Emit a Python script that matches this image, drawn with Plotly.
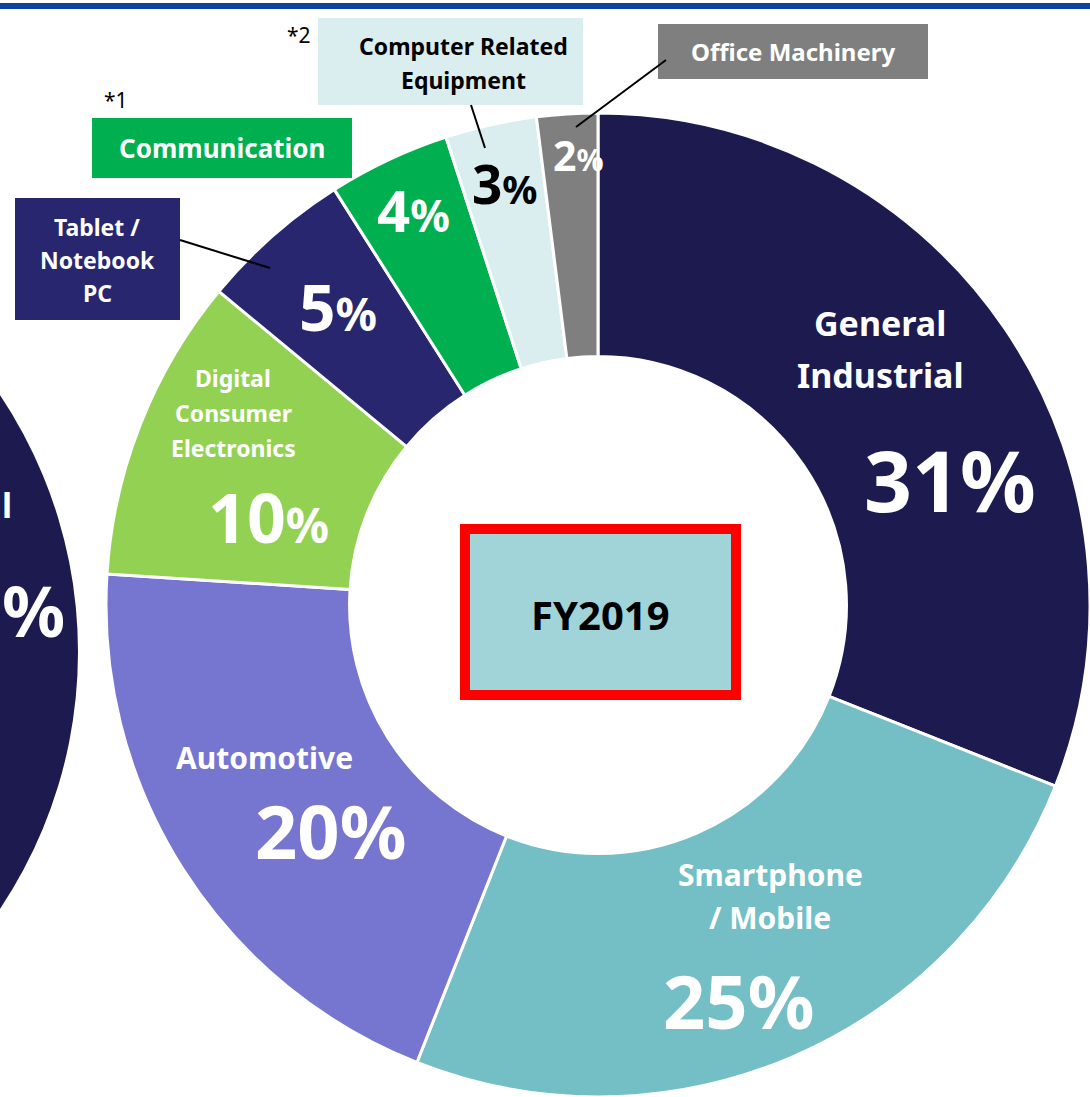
import plotly.graph_objects as go

W, H = 1090, 1097

# ---------------- data ----------------
categories = ["General Industrial", "Smartphone / Mobile", "Automotive",
              "Digital Consumer Electronics", "Tablet / Notebook PC",
              "Communication", "Computer Related Equipment", "Office Machinery"]
shares = [31, 25, 20, 10, 5, 4, 3, 2]
label_lines = [["General", "Industrial"], ["Smartphone", "/ Mobile"], ["Automotive"],
               ["Digital", "Consumer", "Electronics"], ["Tablet /", "Notebook", "PC"],
               ["Communication"], ["Computer Related", "Equipment"], ["Office Machinery"]]
footnotes = ["", "", "", "", "", "*1", "*2", ""]
year_label = "FY2019"
neighbour_tail = ["l", "%"]   # visible fragments of the cut-off neighbouring chart

# ---------------- styles ----------------
colors = ["#1c1a4f", "#73bfc5", "#7675cf", "#93d152", "#28266f",
          "#00b050", "#daedef", "#7f7f7f"]
FONT = "Noto Sans"


def X(p):
    return p / W


def Y(p):
    return 1 - p / H


fig = go.Figure(go.Pie(
    labels=categories, values=shares, sort=False, direction="clockwise",
    rotation=0, hole=0.505, textinfo="none", hoverinfo="label+percent",
    showlegend=False,
    marker=dict(colors=colors, line=dict(color="white", width=3)),
    domain=dict(x=[X(106), 1], y=[0, Y(113)]),
))

shapes = []
annotations = []


def text(x, y, t, size, color="white", bold=True, xanchor="center"):
    s = f"<b>{t}</b>" if bold else t
    annotations.append(dict(x=X(x), y=Y(y), xref="paper", yref="paper", text=s,
                            showarrow=False, xanchor=xanchor, yanchor="middle",
                            font=dict(family=FONT, size=size, color=color)))


def pct(x, y, v, nsize, psize, color="white"):
    t = (f"<span style='font-size:{nsize}px'>{v}</span>"
         f"<span style='font-size:{psize}px'>%</span>")
    text(x, y, t, nsize, color)


def box(x0, y0, x1, y1, fill):
    shapes.append(dict(type="rect", xref="paper", yref="paper", x0=X(x0), x1=X(x1),
                       y0=Y(y1), y1=Y(y0), fillcolor=fill, line=dict(width=0)))


def seg(x0, y0, x1, y1):
    shapes.append(dict(type="line", xref="paper", yref="paper", x0=X(x0), x1=X(x1),
                       y0=Y(y0), y1=Y(y1), line=dict(color="black", width=2)))


# top rule
shapes.append(dict(type="rect", xref="paper", yref="paper", x0=-0.01, x1=1.01,
                   y0=Y(9), y1=Y(3), fillcolor="#0a44a0", line=dict(width=0)))

# neighbouring (cut-off) chart on the left
shapes.append(dict(type="circle", xref="paper", yref="paper", x0=X(-846), x1=X(78),
                   y0=Y(1114), y1=Y(190), fillcolor=colors[0], line=dict(width=0)))
text(0, 505, neighbour_tail[0], 34, xanchor="left")
text(0, 610, neighbour_tail[1], 70, xanchor="left")

# inside labels
# General Industrial
for i, ln in enumerate(label_lines[0]):
    text(880, 323 + i * 52, ln, 34)
pct(950, 480, shares[0], 84, 84)
# Smartphone / Mobile
for i, ln in enumerate(label_lines[1]):
    text(770, 874 + i * 43, ln, 30)
pct(738, 1000, shares[1], 74, 74)
# Automotive
text(264, 757, label_lines[2][0], 30)
pct(330, 830, shares[2], 74, 74)
# Digital Consumer Electronics
for i, ln in enumerate(label_lines[3]):
    text(233, 378 + i * 35, ln, 23)
pct(268, 516, shares[3], 68, 48)
# small slices
pct(338, 306, shares[4], 64, 46)
pct(413, 209, shares[5], 58, 44)
pct(505, 183, shares[6], 53, 39, color="black")
pct(578, 155, shares[7], 41, 30)

# callout boxes
box(15, 198, 180, 320, colors[4])
for i, ln in enumerate(label_lines[4]):
    text(97, 227 + i * 33, ln, 23)
seg(180, 240, 270, 268)

box(92, 118, 352, 178, colors[5])
text(222, 148, label_lines[5][0], 26)
text(116, 100, footnotes[5], 21, color="black", bold=False)

box(318, 18, 583, 105, colors[6])
for i, ln in enumerate(label_lines[6]):
    text(463, 46 + i * 34, ln, 23, color="black")
text(299, 35, footnotes[6], 21, color="black", bold=False)
seg(471, 105, 485, 148)

box(658, 24, 928, 79, colors[7])
text(793, 52, label_lines[7][0], 24)
seg(666, 60, 576, 127)

# centre year box
shapes.append(dict(type="rect", xref="paper", yref="paper", x0=X(465), x1=X(736),
                   y0=Y(695), y1=Y(529), fillcolor="#a0d4d8",
                   line=dict(color="#ff0000", width=10)))
text(600, 614, year_label, 40, color="black")

fig.update_layout(width=W, height=H, margin=dict(l=0, r=0, t=0, b=0),
                  paper_bgcolor="white", plot_bgcolor="white",
                  shapes=shapes, annotations=annotations)
fig.write_html("out.html", config={"displayModeBar": False},
               post_script="document.body.style.margin='0';"
                           "document.body.style.padding='0';"
                           "document.documentElement.style.overflow='hidden';")
